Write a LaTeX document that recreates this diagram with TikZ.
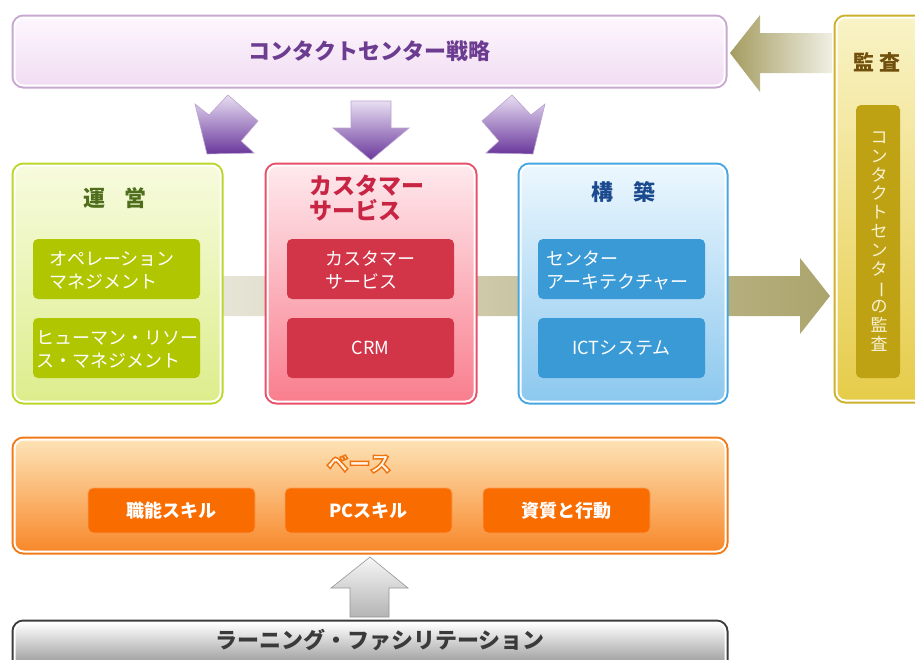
\documentclass[tikz,border=0pt]{standalone}
\usepackage{fontspec}
\setmainfont{Noto Sans CJK JP}
\definecolor{stratB}{HTML}{C8A8D0}
\definecolor{stratT}{HTML}{FDF6FD}
\definecolor{stratBt}{HTML}{F1DDF3}
\definecolor{stratTx}{HTML}{6C3C90}
\definecolor{purL}{HTML}{E8DEF2}
\definecolor{purD}{HTML}{6A389C}
\definecolor{purE}{HTML}{BBA2D0}
\definecolor{grnB}{HTML}{BCD62A}
\definecolor{grnT}{HTML}{F7FBDE}
\definecolor{grnBt}{HTML}{DDED8C}
\definecolor{grnIn}{HTML}{B0C600}
\definecolor{grnTx}{HTML}{4E6E1C}
\definecolor{redB}{HTML}{E8506A}
\definecolor{redT}{HTML}{FEE9ED}
\definecolor{redBt}{HTML}{F97E8E}
\definecolor{redIn}{HTML}{D23448}
\definecolor{redTx}{HTML}{C82444}
\definecolor{bluB}{HTML}{46A6E2}
\definecolor{bluT}{HTML}{ECF7FE}
\definecolor{bluBt}{HTML}{8CC8EE}
\definecolor{bluIn}{HTML}{3A9AD6}
\definecolor{bluTx}{HTML}{1C4A8E}
\definecolor{orgB}{HTML}{F27A16}
\definecolor{orgT}{HTML}{FDE3B6}
\definecolor{orgBt}{HTML}{F8882A}
\definecolor{orgIn}{HTML}{F96C00}
\definecolor{orgInE}{HTML}{FB9C56}
\definecolor{orgTx}{HTML}{FFF6E8}
\definecolor{audB}{HTML}{CDB12A}
\definecolor{audT}{HTML}{F9F3C6}
\definecolor{audBt}{HTML}{E6CC4A}
\definecolor{audIn}{HTML}{BEA214}
\definecolor{audTx}{HTML}{70500C}
\definecolor{audV}{HTML}{F8F2D2}
\definecolor{oliveD}{HTML}{A49C60}
\definecolor{oliveL}{HTML}{F0EFE4}
\definecolor{bandL}{HTML}{E9E7DB}
\definecolor{bandR}{HTML}{ABA46C}
\definecolor{grayB}{HTML}{3C3C3C}
\definecolor{grayBt}{HTML}{5E5E5E}
\definecolor{grayTx}{HTML}{3A3A3A}
\definecolor{upT}{HTML}{F6F6F6}
\definecolor{upB}{HTML}{B4B4B4}
\definecolor{upE}{HTML}{959595}
\begin{document}
\begin{tikzpicture}[x=1pt,y=-1pt,
  frame/.style={rounded corners=9pt, draw=white, line width=2pt,
    preaction={draw=#1, line width=6pt}, inner sep=0pt},
  inbox/.style={rounded corners=5pt, fill=#1, inner sep=0pt,
    minimum width=167pt, minimum height=60pt},
  binbox/.style={rounded corners=5pt, fill=orgIn, draw=orgInE, line width=0.8pt,
    inner sep=0pt, minimum width=167pt, minimum height=45pt, text=white,
    font=\bfseries\fontsize{18}{22}\selectfont},
  ttl/.style={font=\bfseries\fontsize{22}{25}\selectfont, inner sep=0pt},
  itxt/.style={font=\fontsize{18}{23}\selectfont, text=white, align=left, inner sep=0pt},
  purarrow/.style={top color=purL, bottom color=purD, draw=purE, line width=0.6pt}
]
\useasboundingbox (0,0) rectangle (915,659);
\clip (0,0) rectangle (915,659);

% horizontal band arrow behind the middle row
\shade[left color=bandL, right color=bandR]
  (200,276) -- (800,276) -- (800,258) -- (830,296) -- (800,334) -- (800,316) -- (200,316) -- cycle;

% arrow from audit to strategy
\shade[left color=oliveD, right color=oliveL]
  (730,53) -- (760,15) -- (760,33) -- (832,33) -- (832,73) -- (760,73) -- (760,92) -- cycle;

% strategy box
\node[frame=stratB, top color=stratT, bottom color=stratBt,
  minimum width=710pt, minimum height=68pt, text=stratTx,
  font=\bfseries\fontsize{22}{25}\selectfont] (strat) at (369.5,51.5) {コンタクトセンター戦略};

% purple arrows
\shade[purarrow] (195,104) -- (209,115) -- (228,95) -- (258,121) -- (241,141) -- (254,153) -- (207,154) -- cycle;
\shade[purarrow] (351,101) -- (391,101) -- (391,128) -- (409,128) -- (371,160) -- (333,128) -- (351,128) -- cycle;
\shade[purarrow] (545,104) -- (531,115) -- (512,95) -- (482,121) -- (499,141) -- (486,153) -- (533,154) -- cycle;

% audit column
\node[frame=audB, top color=audT, bottom color=audBt,
  minimum width=101pt, minimum height=383pt] (audit) at (887,209) {};
\node[ttl, text=audTx, font=\bfseries\fontsize{21}{24}\selectfont] (audttl) at (877,62) {監\hspace{5pt}査};
\node[fill=audIn, rounded corners=5pt, inner sep=0pt,
  minimum width=44pt, minimum height=273pt] (audin) at (878,241.5) {};
\node[font=\fontsize{17}{18.8}\selectfont, text=audV, align=center, inner sep=0pt] (audv) at (879,241.5)
  {コ\\ン\\タ\\ク\\ト\\セ\\ン\\タ\\\rotatebox[origin=c]{-90}{ー}\\の\\監\\査};

% operations
\node[frame=grnB, top color=grnT, bottom color=grnBt,
  minimum width=206pt, minimum height=236pt] (ops) at (117.5,283.5) {};
\node[ttl, text=grnTx] (opsttl) at (115,198) {運\hspace{20pt}営};
\node[inbox=grnIn] (ops1) at (116.5,269) {};
\node[itxt, anchor=west] (ops1t) at (49,270) {オペレーション\\マネジメント};
\node[inbox=grnIn] (ops2) at (116.5,348) {};
\node[itxt, anchor=west] (ops2t) at (36,349) {ヒューマン・リソー\\ス・マネジメント};

% customer service
\node[frame=redB, top color=redT, bottom color=redBt,
  minimum width=207pt, minimum height=236pt] (cs) at (371,283.5) {};
\node[ttl, text=redTx, align=left, anchor=west, font=\bfseries\fontsize{23}{25}\selectfont] (csttl) at (309,198) {カスタマー\\サービス};
\node[inbox=redIn] (cs1) at (370.5,269) {};
\node[itxt, anchor=west] (cs1t) at (325,270) {カスタマー\\サービス};
\node[inbox=redIn, text=white, font=\fontsize{18}{22}\selectfont] (crm) at (370.5,348) {CRM};

% construction
\node[frame=bluB, top color=bluT, bottom color=bluBt,
  minimum width=205pt, minimum height=236pt] (bld) at (623,283.5) {};
\node[ttl, text=bluTx] (bldttl) at (623,192) {構\hspace{20pt}築};
\node[inbox=bluIn] (bld1) at (621.5,269) {};
\node[itxt, anchor=west] (bld1t) at (546,270) {センター\\アーキテクチャー};
\node[inbox=bluIn, text=white, font=\fontsize{18}{22}\selectfont] (ict) at (621.5,348) {ICTシステム};

% base
\node[frame=orgB, top color=orgT, bottom color=orgBt,
  minimum width=711pt, minimum height=112pt] (base) at (370,495.5) {};
\node[ttl, text=orgTx] (basettl) at (359,464)
  {\special{pdf:literal direct 2 Tr 1.4 w 0.94 0.45 0.06 RG}ベース\special{pdf:literal direct 0 Tr}};
\node[binbox] (skill) at (171.5,510.5) {職能スキル};
\node[binbox] (pc) at (368.5,510.5) {PCスキル};
\node[binbox] (attr) at (566.5,510.5) {資質と行動};

% up arrow
\shade[top color=upT, bottom color=upB, draw=upE, line width=0.6pt]
  (370,557) -- (408,588) -- (389,588) -- (389,617) -- (350,617) -- (350,588) -- (331,588) -- cycle;

% learning facilitation
\node[frame=grayB, top color=white, bottom color=grayBt,
  minimum width=711pt, minimum height=67pt] (learn) at (370,656) {};
\node[ttl, text=grayTx] (learnt) at (380,640) {ラーニング・ファシリテーション};
\end{tikzpicture}
\end{document}
